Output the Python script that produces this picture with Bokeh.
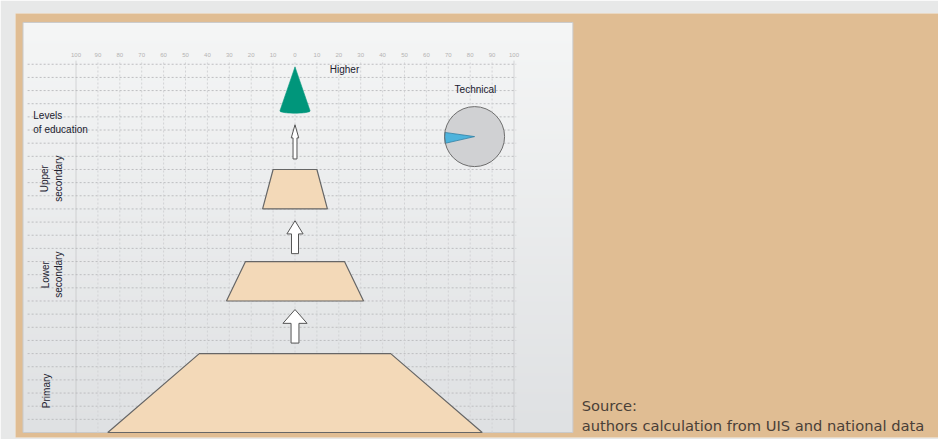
import numpy as np
from bokeh.plotting import figure
from bokeh.models import Range1d
from bokeh.core.properties import value
from bokeh.embed import file_html
from bokeh.resources import INLINE

# ---------------- data ----------------
levels = ["Primary", "Lower secondary", "Upper secondary"]
level_y0 = [0.0, 10.0, 17.0]          # bottom of each block (grid rows)
level_y1 = [6.0, 13.0, 20.0]          # top of each block
level_w0 = [85.5, 31.3, 14.8]         # half-width at bottom (%)
level_w1 = [43.7, 22.6, 10.0]         # half-width at top (%)

arrow_y0 = [6.8, 13.6, 20.8]          # transition arrows: base
arrow_yh = [8.3, 15.1, 22.4]          # head start
arrow_y1 = [9.35, 16.1, 23.4]         # tip
arrow_head = [5.5, 3.7, 1.7]          # head half-width
arrow_shaft = [1.8, 1.6, 0.9]         # shaft half-width

higher_label = "Higher"
higher_y0 = 24.45
higher_y1 = 27.8
higher_w = 6.9

technical_label = "Technical"
technical_share = 5.8                 # % of pie

tick_values = list(range(-100, 101, 10))
tick_labels = [str(abs(v)) for v in tick_values]
grid_levels = list(range(1, 29))

source_lines = ["Source:", "authors  calculation from UIS and national data"]

# ---------------- figure ----------------
XR = (-127.63, 293.84)
YR = (-0.38, 31.86)
PANEL = (-124.2, 126.9, 0.0, 31.18)   # left, right, bottom, top of the chart panel

p = figure(width=938, height=439, output_backend="svg", toolbar_location=None, tools="",
           title=None, x_range=Range1d(*XR), y_range=Range1d(*YR),
           x_axis_location=None, y_axis_location=None,
           min_border_left=15, min_border_right=0, min_border_top=13, min_border_bottom=2)
p.grid.visible = False
p.border_fill_color = "#e7e8e8"
p.background_fill_color = "#e0bd93"
p.outline_line_color = None

# panel gradient background
n = 256
t = np.linspace(0, 1, n)
c_bot = np.array([0xdf, 0xe1, 0xe3], dtype=float)
c_top = np.array([0xf5, 0xf6, 0xf6], dtype=float)
cols = c_bot + (c_top - c_bot) * t[:, None]
img = np.zeros((n, 1), dtype=np.uint32)
view = img.view(dtype=np.uint8).reshape((n, 1, 4))
view[:, 0, 0] = cols[:, 0]
view[:, 0, 1] = cols[:, 1]
view[:, 0, 2] = cols[:, 2]
view[:, 0, 3] = 255
p.image_rgba(image=[img], x=PANEL[0], y=PANEL[2], dw=PANEL[1] - PANEL[0], dh=PANEL[3] - PANEL[2])
p.quad(left=PANEL[0], right=PANEL[1], bottom=PANEL[2], top=PANEL[3],
       fill_color=None, line_color="#c9cacb", line_width=1)

# grid
p.segment(x0=-122.1, y0=grid_levels, x1=101, y1=grid_levels,
          line_color="#bdbec0", line_dash="2 2", line_width=1)
inner = [v for v in tick_values if abs(v) != 100]
outer = [v for v in tick_values if abs(v) == 100]
p.segment(x0=inner, y0=0, x1=inner, y1=28.3, line_color="#d2d3d5", line_dash="2 2", line_width=1)
p.segment(x0=outer, y0=0, x1=outer, y1=28.3, line_color="#b4b5b7", line_dash="1 1", line_width=1)

p.text(x=tick_values, y=28.67, text=tick_labels, text_font=value("Liberation Sans"),
       text_font_size="6px", text_color="#b3b3b3", text_align="center", text_baseline="middle")

# level blocks
xs = [[-a, a, b, -b] for a, b in zip(level_w0, level_w1)]
ys = [[y0, y0, y1, y1] for y0, y1 in zip(level_y0, level_y1)]
p.patches(xs, ys, fill_color="#f3d9b8", line_color="#666666", line_width=1.2)

# arrows
axs, ays = [], []
for y0, yh, y1, h, s in zip(arrow_y0, arrow_yh, arrow_y1, arrow_head, arrow_shaft):
    axs.append([-s, s, s, h, 0, -h, -s])
    ays.append([y0, y0, yh, yh, y1, yh, yh])
p.patches(axs, ays, fill_color="#ffffff", line_color="#555555", line_width=1)

# higher education cone
ang = np.linspace(np.pi, 2 * np.pi, 30)
cx = [0.0] + list(higher_w * np.cos(ang))
cy = [higher_y1] + list(higher_y0 + 0.17 * np.sin(ang))
p.patch(cx, cy, fill_color="#00967b", line_color="#00967b", line_width=1, line_alpha=0.6)

# technical pie
pie_x, pie_y = 82.0, 22.5
a0 = np.deg2rad(172)
a1 = a0 + 2 * np.pi * technical_share / 100
p.wedge(x=pie_x, y=pie_y, radius=30, radius_units="screen", start_angle=a1,
        end_angle=a0 + 2 * np.pi, fill_color="#d0d1d3", line_color=None)
p.wedge(x=pie_x, y=pie_y, radius=30, radius_units="screen", start_angle=a0,
        end_angle=a1, fill_color="#4db3dc", line_color="#2f7fa3", line_width=0.8)
p.scatter(x=[pie_x], y=[pie_y], marker="circle", size=60, fill_color=None,
          line_color="#6e6e6e", line_width=1)

# labels
lab_font = value("Liberation Sans")
lab_col = "#20202e"
p.text(x=[22.6], y=[27.6], text=[higher_label], text_font=lab_font, text_font_size="10px",
       text_color=lab_col, text_align="center", text_baseline="middle")
p.text(x=[82.4], y=[26.06], text=[technical_label], text_font=lab_font, text_font_size="10px",
       text_color=lab_col, text_align="center", text_baseline="middle")
p.text(x=[-119.5], y=[23.57], text=["Levels\nof education"], text_font=lab_font,
       text_font_size="10px", text_color=lab_col, text_align="left", text_baseline="middle")
p.text(x=[-113.5, -111.0, -111.2], y=[3.16, 12.0, 19.3],
       text=[l.replace(" ", "\n") for l in levels], angle=np.pi / 2,
       text_font=lab_font, text_font_size="10px", text_color=lab_col,
       text_align="center", text_baseline="middle")

# source
p.text(x=[130.9, 130.9], y=[2.05, 0.53], text=source_lines, text_font=value("DejaVu Sans"),
       text_font_size="14.7px", text_color="#4a4038", text_align="left",
       text_baseline="alphabetic")

open("out.html", "w").write(file_html(p, INLINE))
